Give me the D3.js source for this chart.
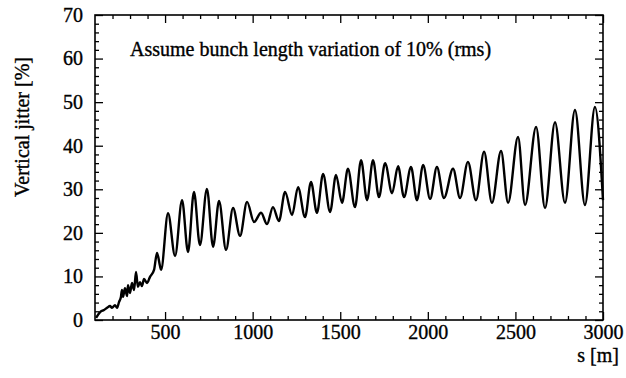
<!DOCTYPE html>
<html>
<head>
<meta charset="utf-8">
<script src="https://cdn.jsdelivr.net/npm/d3@7"></script>
<style>
  body { margin: 0; background: #fff; }
</style>
</head>
<body>
<div id="chart"></div>
<script>
// position along the line [m]
const sValues = [106, 129, 151, 169, 186, 197, 214, 226, 237, 248, 254, 260, 271, 283, 288,
  300, 311, 323, 334, 345, 357, 368, 380, 397, 414, 437, 454, 471, 477, 517,
  557, 597, 631, 665, 699, 739, 774, 808, 848, 888, 928, 968, 1008, 1048, 1082,
  1116, 1150, 1185, 1225, 1259, 1299, 1333, 1367, 1402, 1442, 1476, 1510, 1544, 1584, 1619,
  1653, 1687, 1721, 1756, 1796, 1830, 1864, 1904, 1938, 1973, 2013, 2052, 2092, 2144, 2184,
  2229, 2275, 2321, 2366, 2418, 2458, 2515, 2555, 2618, 2669, 2726, 2783, 2840, 2897, 2954, 3000];
// vertical jitter [%]
const jitterValues = [0.5, 1.8, 2.3, 2.8, 3.2, 2.8, 3.4, 2.8, 4.1, 5.3, 6.9, 5.3, 7.3, 5.5, 8.0,
  6.2, 8.5, 6.9, 11.0, 7.6, 8.7, 7.8, 9.4, 8.5, 9.9, 11.5, 15.4, 12.4, 11.5, 24.5,
  14.7, 27.5, 15.6, 29.4, 17.2, 30.1, 16.8, 27.3, 16.1, 25.7, 19.3, 27.1, 22.5, 24.6, 22.0,
  25.9, 22.7, 29.4, 24.1, 30.5, 23.6, 31.7, 24.6, 33.5, 24.8, 33.3, 26.9, 34.7, 25.9, 36.7,
  27.5, 36.7, 28.2, 36.0, 29.1, 35.3, 28.2, 35.1, 27.5, 35.6, 27.8, 35.1, 28.0, 34.7, 28.0,
  36.3, 27.5, 38.6, 26.9, 38.8, 26.9, 42.0, 26.4, 44.3, 25.7, 45.4, 26.9, 48.2, 26.4, 48.9, 27.5];

const xTicks = [500, 1000, 1500, 2000, 2500, 3000];
const yTicks = [0, 10, 20, 30, 40, 50, 60, 70];
const annotation = 'Assume bunch length variation of 10% (rms)';

const FONT = '"Liberation Serif", "Times New Roman", Times, "DejaVu Serif", serif';
const width = 626, height = 378;
const margin = {top: 15, right: 23, bottom: 58, left: 95};

const svg = d3.select('#chart').append('svg')
  .attr('width', width)
  .attr('height', height);

const x = d3.scaleLinear().domain([100, 3000]).range([margin.left, width - margin.right]);
const y = d3.scaleLinear().domain([0, 70]).range([height - margin.bottom, margin.top]);

// minor ticks every 100 m / 2 %
const xMinor = d3.range(200, 3000, 100).filter(v => v % 500 !== 0);
const yMinor = d3.range(2, 70, 2).filter(v => v % 10 !== 0);

// scanned-print look: slightly heavy serif text
function styleText(sel) {
  return sel.style('font-family', FONT).style('font-size', '20px')
    .attr('fill', '#000').attr('stroke', '#000').attr('stroke-width', 0.35);
}

function drawTicks(axis, values, len, labels) {
  const g = svg.append('g')
    .attr('transform', axis.transform)
    .call(axis.gen.tickValues(values).tickSize(-len).tickSizeOuter(0)
      .tickFormat(labels ? d3.format('d') : ''));
  g.attr('font-family', null).attr('font-size', null);
  g.select('.domain').remove();
  g.selectAll('line').attr('stroke', '#000').attr('stroke-width', 1.3);
  styleText(g.selectAll('text'));
  return g;
}

const bottom = height - margin.bottom, right = width - margin.right;

// bottom / top
drawTicks({gen: d3.axisBottom(x), transform: `translate(0,${bottom})`}, xTicks, 8, true)
  .selectAll('text').attr('dy', '0.75em').attr('y', 4);
drawTicks({gen: d3.axisBottom(x), transform: `translate(0,${bottom})`}, xMinor, 4, false);
drawTicks({gen: d3.axisTop(x), transform: `translate(0,${margin.top})`}, xTicks, 8, false);
drawTicks({gen: d3.axisTop(x), transform: `translate(0,${margin.top})`}, xMinor, 4, false);
// left / right
drawTicks({gen: d3.axisLeft(y), transform: `translate(${margin.left},0)`}, yTicks, 8, true)
  .selectAll('text').attr('x', -12);
drawTicks({gen: d3.axisLeft(y), transform: `translate(${margin.left},0)`}, yMinor, 4, false);
drawTicks({gen: d3.axisRight(y), transform: `translate(${right},0)`}, yTicks, 8, false);
drawTicks({gen: d3.axisRight(y), transform: `translate(${right},0)`}, yMinor, 4, false);

// frame
svg.append('rect')
  .attr('x', margin.left).attr('y', margin.top)
  .attr('width', right - margin.left).attr('height', bottom - margin.top)
  .attr('fill', 'none').attr('stroke', '#000').attr('stroke-width', 1.6);

// curve
const line = d3.line()
  .x(i => x(sValues[i]))
  .y(i => y(jitterValues[i]))
  .curve(d3.curveMonotoneX);

svg.append('path')
  .datum(d3.range(sValues.length))
  .attr('d', line)
  .attr('fill', 'none')
  .attr('stroke', '#000')
  .attr('stroke-width', 2.4)
  .attr('stroke-linejoin', 'round');

// texts
styleText(svg.append('text'))
  .attr('x', 130).attr('y', 56)
  .text(annotation);

styleText(svg.append('text'))
  .attr('transform', 'translate(29,127) rotate(-90)')
  .attr('text-anchor', 'middle')
  .text('Vertical jitter [%]');

styleText(svg.append('text'))
  .attr('x', 619).attr('y', 362)
  .attr('text-anchor', 'end')
  .text('s [m]');
</script>
</body>
</html>
